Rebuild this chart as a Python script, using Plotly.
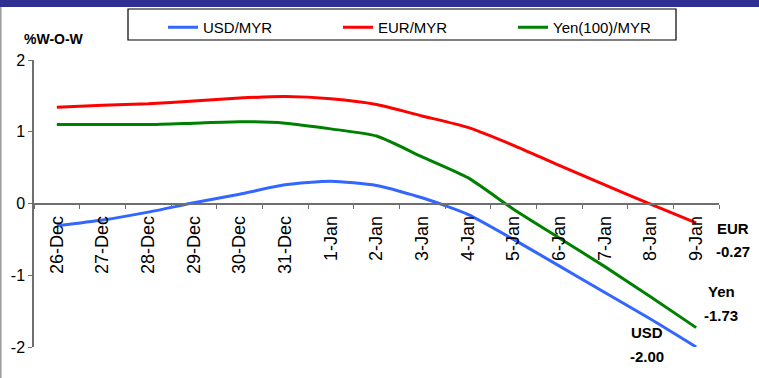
import plotly.graph_objects as go

# Week-on-week change of the ringgit against major currencies (%)
dates = ["26-Dec", "27-Dec", "28-Dec", "29-Dec", "30-Dec", "31-Dec", "1-Jan",
         "2-Jan", "3-Jan", "4-Jan", "5-Jan", "6-Jan", "7-Jan", "8-Jan", "9-Jan"]
usd_myr = [-0.31, -0.23, -0.12, 0.01, 0.13, 0.26, 0.31, 0.25, 0.08, -0.15,
           -0.50, -0.87, -1.24, -1.61, -2.00]
eur_myr = [1.34, 1.37, 1.39, 1.43, 1.47, 1.49, 1.46, 1.38, 1.22, 1.06,
           0.81, 0.53, 0.26, -0.01, -0.27]
yen_myr = [1.10, 1.10, 1.10, 1.12, 1.14, 1.12, 1.04, 0.94, 0.65, 0.36,
           -0.08, -0.48, -0.88, -1.30, -1.73]

W, H = 759, 378


def px(x):
    return x / W


def py(y):
    return 1 - y / H


fig = go.Figure()
series = [
    ("USD/MYR", usd_myr, "#3366FF"),
    ("EUR/MYR", eur_myr, "#FF0000"),
    ("Yen(100)/MYR", yen_myr, "#008000"),
]
for name, vals, color in series:
    fig.add_trace(go.Scatter(
        x=dates, y=vals, name=name, mode="lines",
        line=dict(color=color, width=3, shape="spline", smoothing=0.6),
    ))

axis_color = "#6f6f6f"
fig.update_layout(
    template="none",
    width=W, height=H,
    margin=dict(l=0, r=0, t=0, b=0, pad=0),
    paper_bgcolor="white", plot_bgcolor="white",
    font=dict(family="Arial, Liberation Sans, sans-serif", color="black"),
    showlegend=True,
    legend=dict(
        orientation="h", x=px(163), y=py(11), xanchor="left", yanchor="top",
        font=dict(size=15), entrywidth=130, entrywidthmode="pixels",
        bgcolor="rgba(0,0,0,0)", borderwidth=0,
    ),
    xaxis=dict(
        type="category", domain=[px(34), px(719)], range=[-0.5, 14.5],
        anchor="free", position=py(204), automargin=False,
        showline=True, linecolor=axis_color, linewidth=1.5,
        ticks="outside", ticklen=4, tickcolor=axis_color, tickson="boundaries",
        tickangle=-90, tickfont=dict(size=18), ticklabelstandoff=4,
        showgrid=False, zeroline=False,
    ),
    yaxis=dict(
        domain=[py(347), py(60)], range=[-2, 2], automargin=False,
        tickvals=[-2, -1, 0, 1, 2], ticktext=["-2", "-1", "0", "1", "2"],
        showline=True, linecolor=axis_color, linewidth=1.5,
        ticks="outside", ticklen=4, tickcolor=axis_color,
        tickfont=dict(size=16), showgrid=False, zeroline=False,
    ),
)

# Banner strip, left frame edge and legend frame
fig.add_shape(type="rect", xref="paper", yref="paper",
              x0=0, x1=1, y0=py(7), y1=1,
              fillcolor="#2E3192", line=dict(width=0), layer="above")
fig.add_shape(type="line", xref="paper", yref="paper",
              x0=px(0.8), x1=px(0.8), y0=0, y1=py(7),
              line=dict(color="#9a9a9a", width=1.5))
fig.add_shape(type="rect", xref="paper", yref="paper",
              x0=px(128), x1=px(676), y0=py(40), y1=py(9),
              line=dict(color="black", width=1.2), fillcolor="rgba(0,0,0,0)")

# Axis title
fig.add_annotation(text="<b>%W-O-W</b>", xref="paper", yref="paper",
                   x=px(54), y=py(39), showarrow=False,
                   font=dict(size=14), xanchor="center", yanchor="middle")

# End-of-period labels
end_labels = [
    ("EUR", f"{eur_myr[-1]:.2f}", 733, 228, 251),
    ("Yen", f"{yen_myr[-1]:.2f}", 721, 291, 315),
    ("USD", f"{usd_myr[-1]:.2f}", 647, 332, 356),
]
for cur, val, x, y1, y2 in end_labels:
    fig.add_annotation(text=f"<b>{cur}</b>", xref="paper", yref="paper",
                       x=px(x), y=py(y1), showarrow=False,
                       font=dict(size=15), xanchor="center", yanchor="middle")
    fig.add_annotation(text=f"<b>{val}</b>", xref="paper", yref="paper",
                       x=px(x), y=py(y2), showarrow=False,
                       font=dict(size=15), xanchor="center", yanchor="middle")

fig.write_html("out.html")
